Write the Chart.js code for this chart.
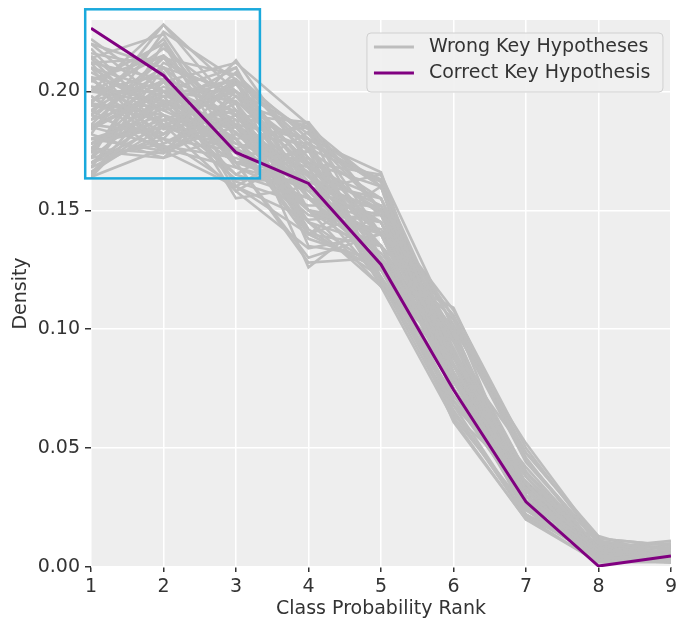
<!DOCTYPE html>
<html>
<head>
<meta charset="utf-8">
<script src="https://cdn.jsdelivr.net/npm/chart.js@4.4.1/dist/chart.umd.min.js"></script>
<style>
  html, body { margin: 0; padding: 0; background: #fff; }
  #wrap { width: 681px; height: 619px; }
</style>
</head>
<body>
<div id="wrap"><canvas id="rankChart" width="681" height="619"></canvas></div>
<script>
// class probability ranks (x axis)
const ranks = [1, 2, 3, 4, 5, 6, 7, 8, 9];

// density for the correct key hypothesis
const correctKey = [0.2265, 0.2067, 0.1743, 0.1613, 0.1272, 0.0745, 0.0274, 0.0004, 0.0046];

// densities for the wrong key hypotheses (one row per hypothesis)
const wrongKeys = [
  [0.190, 0.228, 0.200, 0.160, 0.125, 0.068, 0.022, 0.004, 0.003],
  [0.164, 0.195, 0.205, 0.182, 0.150, 0.075, 0.024, 0.003, 0.002],
  [0.222, 0.200, 0.180, 0.150, 0.140, 0.075, 0.025, 0.005, 0.003],
  [0.170, 0.180, 0.213, 0.170, 0.140, 0.085, 0.030, 0.007, 0.005],
  [0.210, 0.175, 0.190, 0.187, 0.130, 0.070, 0.028, 0.006, 0.004],
  [0.200, 0.215, 0.160, 0.140, 0.160, 0.085, 0.030, 0.006, 0.004],
  [0.185, 0.205, 0.195, 0.126, 0.150, 0.095, 0.035, 0.006, 0.003],
  [0.175, 0.172, 0.200, 0.170, 0.165, 0.080, 0.030, 0.005, 0.003],
  [0.215, 0.190, 0.170, 0.165, 0.120, 0.090, 0.040, 0.006, 0.004],
  [0.168, 0.210, 0.185, 0.160, 0.145, 0.092, 0.030, 0.006, 0.004],
  [0.205, 0.185, 0.205, 0.150, 0.130, 0.080, 0.035, 0.006, 0.004],
  [0.195, 0.222, 0.175, 0.145, 0.135, 0.085, 0.035, 0.005, 0.003],
  [0.180, 0.190, 0.170, 0.175, 0.155, 0.090, 0.030, 0.006, 0.004],
  [0.212, 0.205, 0.155, 0.160, 0.145, 0.080, 0.032, 0.006, 0.005],
  [0.172, 0.178, 0.190, 0.180, 0.160, 0.085, 0.030, 0.003, 0.002],
  [0.200, 0.200, 0.210, 0.140, 0.125, 0.085, 0.030, 0.006, 0.004],
  [0.188, 0.215, 0.190, 0.150, 0.118, 0.090, 0.038, 0.007, 0.004],
  [0.165, 0.200, 0.200, 0.165, 0.140, 0.090, 0.030, 0.006, 0.004],
  [0.220, 0.195, 0.165, 0.155, 0.145, 0.080, 0.030, 0.006, 0.004],
  [0.178, 0.185, 0.180, 0.185, 0.150, 0.085, 0.030, 0.004, 0.003],
  [0.198, 0.180, 0.175, 0.170, 0.160, 0.070, 0.035, 0.007, 0.005],
  [0.182, 0.225, 0.205, 0.135, 0.130, 0.080, 0.035, 0.005, 0.003],
  [0.208, 0.192, 0.200, 0.165, 0.122, 0.072, 0.032, 0.005, 0.004],
  [0.192, 0.175, 0.160, 0.178, 0.162, 0.095, 0.030, 0.005, 0.003],
  [0.176, 0.198, 0.192, 0.155, 0.140, 0.100, 0.030, 0.006, 0.003],
  [0.216, 0.210, 0.185, 0.145, 0.125, 0.075, 0.033, 0.006, 0.005],
  [0.186, 0.182, 0.208, 0.172, 0.135, 0.075, 0.030, 0.008, 0.004],
  [0.168, 0.205, 0.178, 0.168, 0.155, 0.090, 0.028, 0.005, 0.003],
  [0.204, 0.220, 0.170, 0.130, 0.140, 0.088, 0.038, 0.006, 0.004],
  [0.194, 0.188, 0.163, 0.162, 0.150, 0.105, 0.030, 0.005, 0.003],
  [0.212, 0.178, 0.195, 0.158, 0.128, 0.085, 0.035, 0.006, 0.003],
  [0.174, 0.212, 0.198, 0.175, 0.120, 0.078, 0.032, 0.007, 0.004],
  [0.202, 0.196, 0.183, 0.150, 0.145, 0.080, 0.035, 0.006, 0.003],
  [0.185, 0.177, 0.172, 0.158, 0.165, 0.100, 0.032, 0.007, 0.004],
  [0.166, 0.185, 0.203, 0.168, 0.150, 0.085, 0.033, 0.006, 0.004],
  [0.218, 0.186, 0.176, 0.160, 0.135, 0.080, 0.035, 0.006, 0.004],
  [0.190, 0.208, 0.158, 0.175, 0.140, 0.090, 0.030, 0.005, 0.004],
  [0.178, 0.193, 0.210, 0.155, 0.132, 0.092, 0.030, 0.006, 0.004],
  [0.206, 0.174, 0.188, 0.176, 0.140, 0.075, 0.032, 0.005, 0.004],
  [0.196, 0.218, 0.195, 0.145, 0.118, 0.085, 0.033, 0.006, 0.004],
  [0.170, 0.190, 0.165, 0.183, 0.160, 0.092, 0.030, 0.006, 0.004],
  [0.184, 0.202, 0.188, 0.140, 0.150, 0.095, 0.035, 0.004, 0.002],
  [0.210, 0.192, 0.178, 0.170, 0.130, 0.082, 0.028, 0.006, 0.004],
  [0.180, 0.175, 0.198, 0.162, 0.155, 0.090, 0.030, 0.006, 0.004],
  [0.200, 0.207, 0.168, 0.155, 0.148, 0.085, 0.028, 0.005, 0.004],
  [0.172, 0.220, 0.182, 0.160, 0.130, 0.095, 0.030, 0.007, 0.004],
  [0.214, 0.184, 0.192, 0.140, 0.135, 0.090, 0.035, 0.006, 0.004],
  [0.188, 0.198, 0.205, 0.178, 0.120, 0.070, 0.030, 0.006, 0.005],
  [0.198, 0.176, 0.185, 0.165, 0.145, 0.088, 0.032, 0.006, 0.005],
  [0.176, 0.204, 0.170, 0.172, 0.148, 0.082, 0.038, 0.006, 0.004],
  [0.180, 0.185, 0.175, 0.150, 0.140, 0.100, 0.052, 0.011, 0.007],
  [0.195, 0.190, 0.180, 0.140, 0.125, 0.109, 0.045, 0.010, 0.006],
  [0.185, 0.200, 0.170, 0.160, 0.130, 0.090, 0.048, 0.013, 0.004],
  [0.200, 0.195, 0.185, 0.150, 0.135, 0.080, 0.042, 0.008, 0.011],
  [0.210, 0.200, 0.190, 0.160, 0.135, 0.065, 0.022, 0.008, 0.010],
  [0.192, 0.210, 0.200, 0.170, 0.130, 0.061, 0.020, 0.009, 0.008],
  [0.205, 0.215, 0.190, 0.155, 0.128, 0.063, 0.025, 0.012, 0.009],
  [0.178, 0.196, 0.186, 0.166, 0.152, 0.102, 0.044, 0.010, 0.008],
  [0.164, 0.176, 0.168, 0.160, 0.150, 0.105, 0.045, 0.010, 0.006],
  [0.168, 0.182, 0.195, 0.185, 0.160, 0.080, 0.022, 0.004, 0.004],
  [0.176, 0.174, 0.205, 0.176, 0.162, 0.075, 0.026, 0.004, 0.002],
  [0.166, 0.188, 0.186, 0.180, 0.166, 0.082, 0.024, 0.005, 0.003],
  [0.172, 0.196, 0.176, 0.187, 0.150, 0.088, 0.024, 0.004, 0.003],
  [0.182, 0.172, 0.182, 0.178, 0.163, 0.090, 0.026, 0.004, 0.003],
  [0.200, 0.228, 0.192, 0.142, 0.122, 0.078, 0.030, 0.005, 0.003],
  [0.214, 0.224, 0.180, 0.138, 0.128, 0.075, 0.032, 0.005, 0.004],
  [0.220, 0.210, 0.170, 0.128, 0.130, 0.090, 0.040, 0.008, 0.004],
  [0.190, 0.180, 0.160, 0.146, 0.148, 0.108, 0.050, 0.010, 0.008],
  [0.205, 0.186, 0.158, 0.134, 0.140, 0.106, 0.048, 0.012, 0.009],
  [0.196, 0.204, 0.212, 0.186, 0.118, 0.062, 0.020, 0.002, 0.002],
  [0.186, 0.214, 0.207, 0.180, 0.122, 0.066, 0.021, 0.002, 0.003],
  [0.178, 0.188, 0.200, 0.184, 0.140, 0.078, 0.026, 0.004, 0.002],
  [0.206, 0.198, 0.162, 0.152, 0.152, 0.098, 0.034, 0.008, 0.004],
  [0.194, 0.194, 0.174, 0.148, 0.142, 0.097, 0.040, 0.008, 0.006],
  [0.184, 0.200, 0.196, 0.168, 0.118, 0.095, 0.040, 0.008, 0.005],
  [0.170, 0.186, 0.192, 0.164, 0.135, 0.104, 0.046, 0.007, 0.006],
  [0.202, 0.182, 0.204, 0.168, 0.126, 0.068, 0.036, 0.009, 0.006],
  [0.212, 0.214, 0.186, 0.156, 0.120, 0.064, 0.036, 0.006, 0.006]
];

// y axis tick values
const yTicks = [0, 0.05, 0.10, 0.15, 0.20];

// highlighted region [xMin, xMax, yMin, yMax] in data units
const zoomBox = [0.92, 3.33, 0.1634, 0.2345];

const legendItems = [
  { label: 'Wrong Key Hypotheses', color: '#bdbdbd' },
  { label: 'Correct Key Hypothesis', color: '#800080' }
];

const FONT = 'DejaVu Sans';
const TEXT = '#333333';

const toPoints = vals => ranks.map((r, i) => ({ x: r, y: vals[i] }));

const datasets = [{
  label: legendItems[1].label,
  data: toPoints(correctKey),
  borderColor: legendItems[1].color,
  borderWidth: 3,
  order: 0
}];
wrongKeys.forEach(row => {
  datasets.push({
    label: legendItems[0].label,
    data: toPoints(row),
    borderColor: legendItems[0].color,
    borderWidth: 2.6,
    order: 1
  });
});

const decorations = {
  id: 'decorations',
  beforeDraw(chart) {
    const { ctx, chartArea: a } = chart;
    ctx.save();
    ctx.fillStyle = '#eeeeee';
    ctx.fillRect(a.left, a.top, a.right - a.left, a.bottom - a.top);
    ctx.restore();
  },
  afterDraw(chart) {
    const { ctx, chartArea: a, scales: { x, y } } = chart;
    ctx.save();

    // cyan highlight rectangle
    const x0 = x.getPixelForValue(zoomBox[0]);
    const x1 = x.getPixelForValue(zoomBox[1]);
    const y0 = y.getPixelForValue(zoomBox[3]);
    const y1 = y.getPixelForValue(zoomBox[2]);
    ctx.strokeStyle = '#1aa9dc';
    ctx.lineWidth = 2.5;
    ctx.strokeRect(x0, y0, x1 - x0, y1 - y0);

    // legend box, upper right
    const bw = 296, bh = 59;
    const bx = a.right - 8 - bw, by = a.top + 13;
    ctx.beginPath();
    ctx.roundRect(bx, by, bw, bh, 4);
    ctx.fillStyle = 'rgba(239,239,239,0.9)';
    ctx.fill();
    ctx.strokeStyle = '#d0d0d0';
    ctx.lineWidth = 1;
    ctx.stroke();

    ctx.font = '19px "' + FONT + '"';
    ctx.textBaseline = 'middle';
    legendItems.forEach((item, i) => {
      const cy = by + 14 + i * 26;
      ctx.strokeStyle = item.color;
      ctx.lineWidth = 3;
      ctx.beginPath();
      ctx.moveTo(bx + 7, cy);
      ctx.lineTo(bx + 47, cy);
      ctx.stroke();
      ctx.fillStyle = TEXT;
      ctx.fillText(item.label, bx + 62, cy);
    });
    ctx.restore();
  }
};

new Chart(document.getElementById('rankChart'), {
  type: 'line',
  data: { datasets },
  options: {
    responsive: false,
    animation: false,
    events: [],
    layout: { padding: { top: 20, right: 10, left: 0, bottom: 0 } },
    elements: {
      point: { radius: 0 },
      line: { tension: 0, borderJoinStyle: 'miter' }
    },
    plugins: {
      legend: { display: false },
      tooltip: { enabled: false }
    },
    scales: {
      x: {
        type: 'linear',
        min: 1,
        max: 9,
        border: { display: false },
        grid: { color: '#ffffff', lineWidth: 1.5, tickColor: TEXT, tickLength: 5 },
        ticks: { stepSize: 1, padding: 4, color: TEXT, font: { family: FONT, size: 19 } },
        title: {
          display: true,
          text: 'Class Probability Rank',
          color: TEXT,
          font: { family: FONT, size: 19, lineHeight: 1 },
          padding: { top: 0, bottom: 0 }
        },
        afterFit: s => { s.height = 52; }
      },
      y: {
        min: 0,
        max: 0.23,
        border: { display: false },
        grid: { color: '#ffffff', lineWidth: 1.5, tickColor: TEXT, tickLength: 6 },
        afterBuildTicks: s => { s.ticks = yTicks.map(v => ({ value: v })); },
        ticks: {
          padding: 5,
          color: TEXT,
          font: { family: FONT, size: 19 },
          callback: v => v.toFixed(2)
        },
        title: {
          display: true,
          text: 'Density',
          color: TEXT,
          font: { family: FONT, size: 19, lineHeight: 1 },
          padding: { top: 12, bottom: 0 }
        },
        afterFit: s => { s.width = 91; }
      }
    }
  },
  plugins: [decorations]
});
</script>
</body>
</html>
